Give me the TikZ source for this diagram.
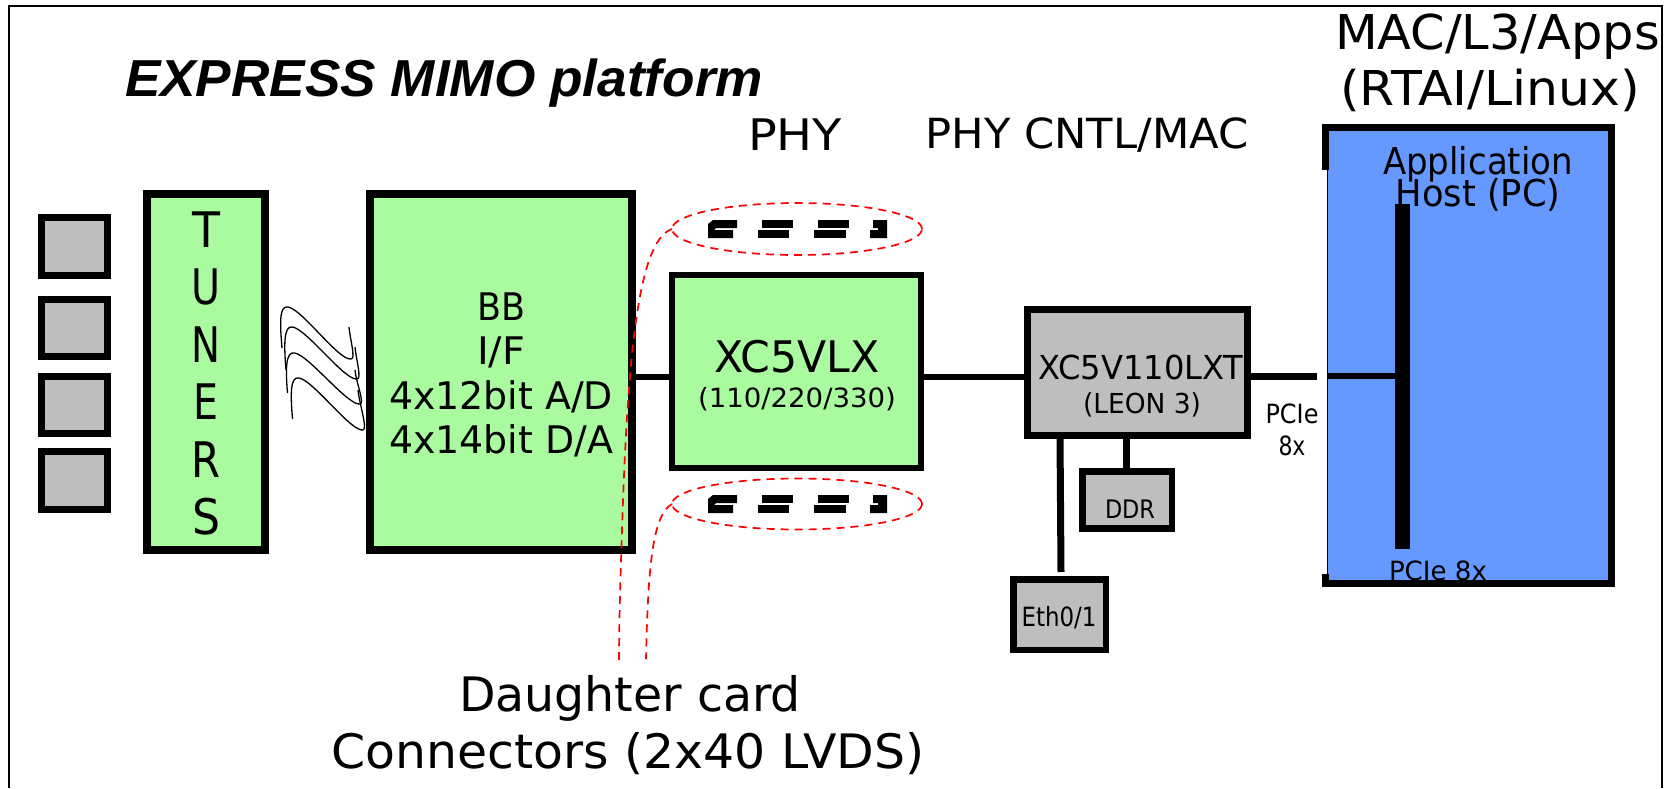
\documentclass[tikz,border=0pt]{standalone}
\usepackage{graphicx}
\usepackage{fontspec}
\usetikzlibrary{shapes.geometric,calc}
\setmainfont{DejaVu Sans}
\newfontfamily\titlefont{Liberation Sans}
\newsavebox{\fitbox}
\newcommand\fitw[3]{\fontsize{#1pt}{#1pt}\selectfont\sbox{\fitbox}{#3}\pgfmathparse{#2/\the\wd\fitbox}\scalebox{\pgfmathresult}[1]{\usebox{\fitbox}}}
\definecolor{boardgreen}{HTML}{AAFBA0}
\definecolor{chipgrey}{HTML}{BEBEBE}
\definecolor{hostblue}{HTML}{6699FF}
\tikzset{
  lbl/.style={inner sep=0pt,outer sep=0pt,anchor=base,text=black},
  box/.style={draw=black,rectangle,inner sep=0pt,outer sep=0pt},
  greenbox/.style={box,fill=boardgreen,line width=#1},
  greybox/.style={box,fill=chipgrey,line width=#1},
  conn/.style={draw=black,line width=#1},
  wave/.style={draw=black,line width=1.3pt},
  reddash/.style={draw=red,line width=1.7pt,dash pattern=on 8pt off 6pt},
  pins/.style={fill=black},
}
% start, peak, trough, end of one hand-drawn wave
\newcommand\wavecurve[8]{\draw[wave] (#1,#2) .. controls ($(#1,#2)+(-2,-24)$) and ($(#3,#4)+(-9,-2)$) .. (#3,#4) .. controls ($(#3,#4)+(14,2)$) and ($(#5,#6)+(-12,2)$) .. (#5,#6) .. controls ($(#5,#6)+(5,0)$) and ($(#7,#8)+(1,12)$) .. (#7,#8);}
\newcommand\pinrow{%
  \fill[pins] (708,238)--(708,224)--(713,220)--(737,220)--(737,228)--(716,228)--(714,230)--(733,230)--(733,238)--cycle;
  \fill[pins] (762,220)--(793,220)--(793,228)--(762,228)--cycle;
  \fill[pins] (758,230)--(789,230)--(789,238)--(758,238)--cycle;
  \fill[pins] (818,220)--(849,220)--(849,228)--(818,228)--cycle;
  \fill[pins] (814,230)--(846,230)--(846,238)--(814,238)--cycle;
  \fill[pins] (873,220)--(887,220)--(887,238)--(870,238)--(870,230)--(878,230)--(878,228)--(873,228)--cycle;
}
\begin{document}
\begin{tikzpicture}[x=1pt,y=-1pt]
\useasboundingbox (0,0) rectangle (1676,788);
\fill[white] (0,0) rectangle (1676,788);
\draw[line width=2pt] (9,788)--(9,6)--(1662,6)--(1662,788);

\node[lbl] (title) at (444,96) {\fitw{52}{638}{\titlefont\bfseries\itshape EXPRESS MIMO platform}};
\node[lbl] (phy) at (795,150) {\fitw{43.5}{94}{PHY}};
\node[lbl] (cntl) at (1087,148) {\fitw{41.5}{323}{PHY CNTL/MAC}};
\node[lbl] (mac) at (1497.5,49.5) {\fitw{48}{325}{MAC/L3/Apps}};
\node[lbl] (rtai) at (1490,105) {\fitw{48}{300}{(RTAI/Linux)}};

% antennas
\node[greybox=7pt,minimum width=66pt,minimum height=58pt] (a1) at (74.5,246.5) {};
\node[greybox=7pt,minimum width=66pt,minimum height=57pt] (a2) at (74.5,328) {};
\node[greybox=7pt,minimum width=66pt,minimum height=57pt] (a3) at (74.5,405) {};
\node[greybox=7pt,minimum width=66pt,minimum height=58pt] (a4) at (74.5,480.5) {};

% tuners
\node[greenbox=8pt,minimum width=118pt,minimum height=356pt] (tun) at (206,372) {};
\node[lbl] (t1) at (206,247) {\fitw{49}{28}{T}};
\node[lbl] (t2) at (206,304) {\fitw{49}{29}{U}};
\node[lbl] (t3) at (206,362) {\fitw{49}{29}{N}};
\node[lbl] (t4) at (206,419.5) {\fitw{49}{25}{E}};
\node[lbl] (t5) at (206,477) {\fitw{49}{29}{R}};
\node[lbl] (t6) at (206,534.5) {\fitw{49}{28}{S}};

% waves
\wavecurve{282}{348}{288}{307}{351}{359}{349}{327}
\wavecurve{286}{370}{292.5}{327}{357}{379}{355}{347}
\wavecurve{287.5}{393}{294.6}{353}{360}{404}{355}{370}
\wavecurve{292.5}{419}{299}{378}{363}{430}{358}{390}

% baseband
\node[greenbox=8pt,minimum width=262pt,minimum height=356pt] (bb) at (501,372) {};
\node[lbl] (b1) at (501,320) {\fitw{38}{48}{BB}};
\node[lbl] (b2) at (501,364) {\fitw{38}{48}{I/F}};
\node[lbl] (b3) at (501,409) {\fitw{38}{224}{4x12bit A/D}};
\node[lbl] (b4) at (501,453) {\fitw{38}{224}{4x14bit D/A}};

% fpga
\node[greenbox=6pt,minimum width=249pt,minimum height=193pt] (xc) at (796.5,371.5) {};
\node[lbl] (x1) at (797,372) {\fitw{43.5}{165}{XC5VLX}};
\node[lbl] (x2) at (797,407) {\fitw{26.5}{198}{(110/220/330)}};
\draw[conn=6pt] ([yshift=-5pt]bb.east) -- ([yshift=-5.5pt]xc.west);

% LXT
\node[greybox=7pt,minimum width=220pt,minimum height=126pt] (lxt) at (1137.5,372.5) {};
\node[lbl] (l1) at (1141,379) {\fitw{33}{205}{XC5V110LXT}};
\node[lbl] (l2) at (1142,413) {\fitw{27.5}{118}{(LEON 3)}};
\draw[conn=6pt] ([yshift=-5.5pt]xc.east) -- ([yshift=-4.5pt]lxt.west);

% DDR and Eth
\node[greybox=6.5pt,minimum width=89.5pt,minimum height=57pt] (ddr) at (1127,500) {};
\node[lbl] (d1) at (1130,518) {\fitw{25.5}{50}{DDR}};
\node[greybox=6.5pt,minimum width=92.5pt,minimum height=70.5pt] (eth) at (1059.5,614.5) {};
\node[lbl] (e1) at (1059,626) {\fitw{26.5}{75}{Eth0/1}};
\coordinate (ethtop) at (1061,572);
\draw[conn=7pt] (lxt.south -| ddr.north) ++(-1,0) -- ([xshift=-1pt]ddr.north);
\draw[conn=7pt] (lxt.south -| ethtop) ++(-1,0) -- (ethtop);
\node[lbl] (p1) at (1292,423) {\fitw{26.5}{53}{PCIe}};
\node[lbl] (p2) at (1292,455) {\fitw{26.5}{27}{8x}};

% host
\node[rectangle,fill=hostblue,inner sep=0pt,outer sep=0pt,minimum width=283pt,minimum height=460pt] (host) at (1468.5,355.5) {};
\draw[line width=1.2pt] (1327.7,170) -- (1327.7,574);
\draw[line width=7pt] (1325.5,170)--(1325.5,127.5)--(1611.5,127.5)--(1611.5,583.5)--(1325.5,583.5)--(1325.5,574);
\node[lbl] (h1) at (1478,174) {\fitw{37}{190}{Application}};
\node[lbl] (h2) at (1478,206) {\fitw{37}{165}{Host (PC)}};
\node[rectangle,fill=black,inner sep=0pt,outer sep=0pt,minimum width=15pt,minimum height=345pt] (bus) at (1402.5,376.5) {};
\node[lbl] (h3) at (1438,580) {\fitw{26.5}{98}{PCIe 8x}};
\coordinate (gapl) at (1317,376);
\coordinate (gapr) at (1328,376);
\draw[conn=7pt] ([yshift=-3.5pt]lxt.east) -- (gapl);
\draw[conn=6pt] (gapr) -- (bus.west |- gapr);

% connectors
\pinrow
\begin{scope}[yshift=-275pt]\pinrow\end{scope}
\node[ellipse,reddash,fill=none,inner sep=0pt,outer sep=0pt,minimum width=250pt,minimum height=52pt] (e1t) at (797,229) {};
\node[ellipse,reddash,fill=none,inner sep=0pt,outer sep=0pt,minimum width=250pt,minimum height=51pt] (e1b) at (797,504) {};
\coordinate (c1) at (619,662);
\coordinate (c2) at (646,659);
\draw[reddash] (e1t.west) .. controls (640,240) and (628,340) .. (622,530) .. controls (620,590) and (619,630) .. (c1);
\draw[reddash] (e1b.west) .. controls (652,515) and (648,570) .. (c2);
\node[lbl] (dc1) at (630,711) {\fitw{47.5}{342}{Daughter card}};
\node[lbl] (dc2) at (628,768) {\fitw{47.5}{593}{Connectors (2x40 LVDS)}};
\end{tikzpicture}
\end{document}
